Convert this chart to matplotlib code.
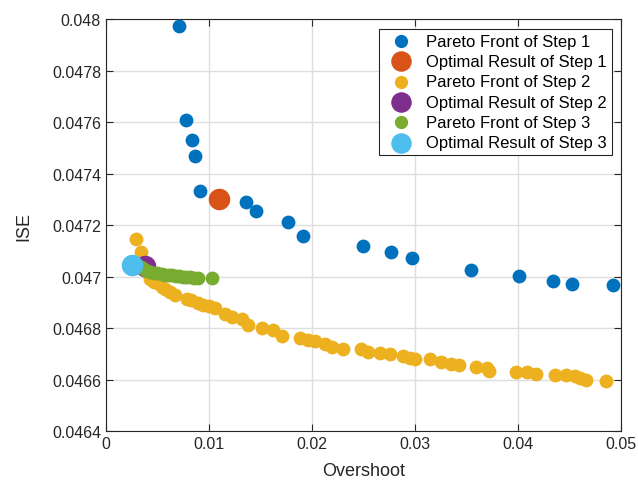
import matplotlib
matplotlib.use("agg")
import matplotlib.pyplot as plt
from matplotlib.ticker import FuncFormatter, MultipleLocator

plt.rcParams["font.family"] = ["Liberation Sans", "DejaVu Sans"]

# Pareto front of step 1 (overshoot, ISE)
step1_x = [0.00709, 0.0078, 0.00838, 0.00864, 0.00916, 0.01356, 0.01456, 0.01764,
           0.01913, 0.02498, 0.02767, 0.02974, 0.03544, 0.0401, 0.0434, 0.04527, 0.04922]
step1_y = [0.047974, 0.047608, 0.04753, 0.04747, 0.047332, 0.047289, 0.047254, 0.047214,
           0.047157, 0.04712, 0.047097, 0.047073, 0.047025, 0.047002, 0.046985, 0.046972, 0.046969]
opt1 = (0.0110, 0.047302)

# Pareto front of step 2
step2_x = [0.00288, 0.00337, 0.0037, 0.0040, 0.00427, 0.0047, 0.00508, 0.0054, 0.00573,
           0.0062, 0.0067, 0.0079, 0.0083, 0.00896, 0.00945, 0.0100, 0.01058, 0.01155,
           0.0122, 0.01317, 0.01382, 0.01511, 0.01624, 0.01706, 0.01883, 0.0196, 0.02029,
           0.02126, 0.02191, 0.02304, 0.02482, 0.02546, 0.0266, 0.02757, 0.02886, 0.0295,
           0.0300, 0.03146, 0.03259, 0.03356, 0.0343, 0.03592, 0.03702, 0.03722, 0.03981,
           0.0409, 0.04175, 0.0436, 0.04466, 0.04553, 0.04602, 0.0466, 0.04861]
step2_y = [0.047146, 0.047097, 0.04705, 0.04702, 0.046993, 0.04698, 0.046974, 0.046962, 0.046954,
           0.04694, 0.04693, 0.046915, 0.046908, 0.046896, 0.04689, 0.046885, 0.046877, 0.046857,
           0.046844, 0.046835, 0.046814, 0.046801, 0.046792, 0.04677, 0.04676, 0.046755, 0.04675,
           0.04674, 0.046728, 0.046718, 0.046718, 0.046708, 0.046705, 0.046698, 0.046693, 0.046686,
           0.046679, 0.04668, 0.046669, 0.046659, 0.046656, 0.04665, 0.046646, 0.046634, 0.04663,
           0.046628, 0.046621, 0.04662, 0.046618, 0.046615, 0.046607, 0.046598, 0.046594]
opt2 = (0.0038, 0.04704)

# Pareto front of step 3
step3_x = [0.0028, 0.0031, 0.0034, 0.0037, 0.0040, 0.0043, 0.0047, 0.0050, 0.0054, 0.0057,
           0.0061, 0.0064, 0.0068, 0.0071, 0.0075, 0.0078, 0.0082, 0.0086, 0.0089, 0.0103]
step3_y = [0.047045, 0.047042, 0.047037, 0.04703, 0.047024, 0.04702, 0.047015, 0.047013, 0.04701,
           0.047008, 0.047006, 0.047005, 0.047003, 0.047002, 0.047, 0.046999, 0.046998, 0.046996,
           0.046995, 0.046995]
opt3 = (0.0025, 0.047047)

fig = plt.figure(figsize=(6.38, 4.85), dpi=100)
ax = fig.add_axes([0.166, 0.109, 0.807, 0.849])

small, big = 80, 210
ax.scatter(step1_x, step1_y, s=small, color="#0072BD", label="Pareto Front of Step 1", zorder=3)
ax.scatter(*opt1, s=big, color="#D95319", label="Optimal Result of Step 1", zorder=3)
ax.scatter(step2_x, step2_y, s=small, color="#EDB120", label="Pareto Front of Step 2", zorder=3)
ax.scatter(*opt2, s=big, color="#7E2F8E", label="Optimal Result of Step 2", zorder=3)
ax.scatter(step3_x, step3_y, s=small, color="#77AC30", label="Pareto Front of Step 3", zorder=3)
ax.scatter(*opt3, s=big, color="#4DBEEE", label="Optimal Result of Step 3", zorder=3)

ax.set_xlim(0, 0.05)
ax.set_ylim(0.0464, 0.048)
ax.xaxis.set_major_locator(MultipleLocator(0.01))
ax.yaxis.set_major_locator(MultipleLocator(0.0002))
ax.xaxis.set_major_formatter(FuncFormatter(lambda v, p: f"{v:.4g}"))
ax.yaxis.set_major_formatter(FuncFormatter(lambda v, p: f"{v:.4g}"))

ax.grid(True, color="#dedede", linewidth=1)
ax.set_axisbelow(True)
ax.tick_params(direction="in", top=True, right=True, length=5, width=0.8,
               color="#262626", labelsize=11.5, labelcolor="#262626")
for sp in ax.spines.values():
    sp.set_color("#262626")
    sp.set_linewidth(0.8)

ax.set_xlabel("Overshoot", fontsize=13, color="#262626", labelpad=8)
ax.set_ylabel("ISE", fontsize=13, color="#262626", labelpad=14)

leg = ax.legend(loc="upper right", fontsize=12, fancybox=False, framealpha=1,
                edgecolor="#262626", borderaxespad=0.55, handletextpad=0.5,
                labelspacing=0.32, borderpad=0.3, markerscale=0.95)
leg.get_frame().set_linewidth(0.8)

fig.savefig("out.png", dpi=100)
plt.close(fig)
